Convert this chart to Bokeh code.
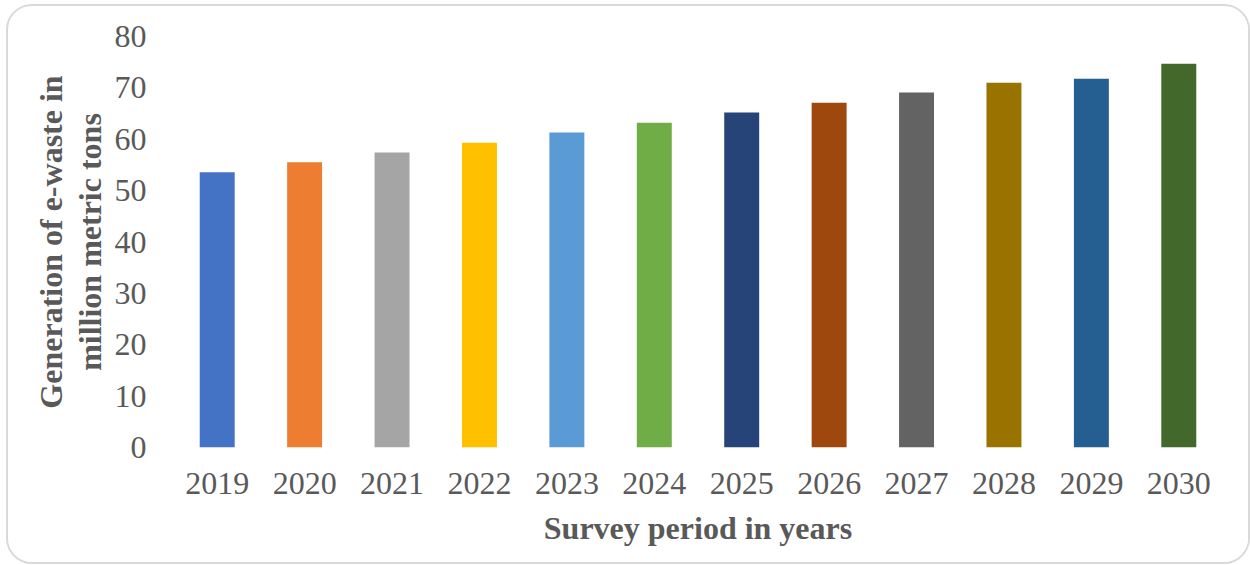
from bokeh.plotting import figure
from bokeh.models import ColumnDataSource, FactorRange, Range1d, FixedTicker, LinearAxis
from bokeh.embed import file_html
from bokeh.resources import INLINE

# Projected e-waste generation (million metric tons)
years = ["2019", "2020", "2021", "2022", "2023", "2024",
         "2025", "2026", "2027", "2028", "2029", "2030"]
ewaste = [53.6, 55.5, 57.4, 59.3, 61.3, 63.2, 65.2, 67.1, 69.1, 71.0, 71.8, 74.7]
colors = ["#4472C4", "#ED7D31", "#A5A5A5", "#FFC000", "#5B9BD5", "#70AD47",
          "#264478", "#9E480E", "#636363", "#997300", "#255E91", "#43682B"]
y_ticks = [0, 10, 20, 30, 40, 50, 60, 70, 80]

FONT = "Liberation Serif"
GREY = "#595959"

source = ColumnDataSource(dict(year=years, value=ewaste, color=colors))

p = figure(
    x_range=FactorRange(*years), y_range=Range1d(0, 80),
    width=1244, height=560,
    output_backend="svg", toolbar_location=None,
    min_border_left=165, min_border_right=30, min_border_top=30, min_border_bottom=119,
    styles={"border": "2px solid #d9d9d9", "border-radius": "26px",
            "margin": "4px 0 0 6px", "overflow": "hidden"},
)
p.outline_line_color = None
p.background_fill_color = "white"
p.border_fill_color = "white"

p.vbar(x="year", top="value", width=0.4, fill_color="color", line_color=None, source=source)

p.xgrid.grid_line_color = None
p.ygrid.grid_line_color = None

for ax in (p.xaxis[0], p.yaxis[0]):
    ax.axis_line_color = None
    ax.major_tick_line_color = None
    ax.minor_tick_line_color = None
    ax.major_tick_out = 0
    ax.major_tick_in = 0
    ax.major_label_text_font = FONT
    ax.major_label_text_font_size = "32px"
    ax.major_label_text_color = GREY

p.yaxis.ticker = FixedTicker(ticks=y_ticks)
p.yaxis.major_label_standoff = 27
p.xaxis.major_label_standoff = 25

p.xaxis.axis_label = "Survey period in years"
p.xaxis.axis_label_text_font = FONT
p.xaxis.axis_label_text_font_style = "bold"
p.xaxis.axis_label_text_font_size = "32px"
p.xaxis.axis_label_text_color = GREY
p.xaxis.axis_label_standoff = 13

# Value-axis title over two lines: inner line on the main axis,
# outer line on a label-only axis stacked further left
p.yaxis.axis_label = "million metric tons"
p.yaxis.axis_label_standoff = 4

outer = LinearAxis(ticker=FixedTicker(ticks=[]), axis_label="Generation of e-waste in")
outer.axis_line_color = None
outer.major_tick_line_color = None
outer.minor_tick_line_color = None
outer.major_tick_out = 0
outer.major_tick_in = 0
outer.major_label_standoff = 0
outer.axis_label_standoff = 0
p.add_layout(outer, "left")

for ax in (p.yaxis[0], outer):
    ax.axis_label_text_font = FONT
    ax.axis_label_text_font_style = "bold"
    ax.axis_label_text_font_size = "32px"
    ax.axis_label_text_color = GREY

open("out.html", "w").write(file_html(p, INLINE))
